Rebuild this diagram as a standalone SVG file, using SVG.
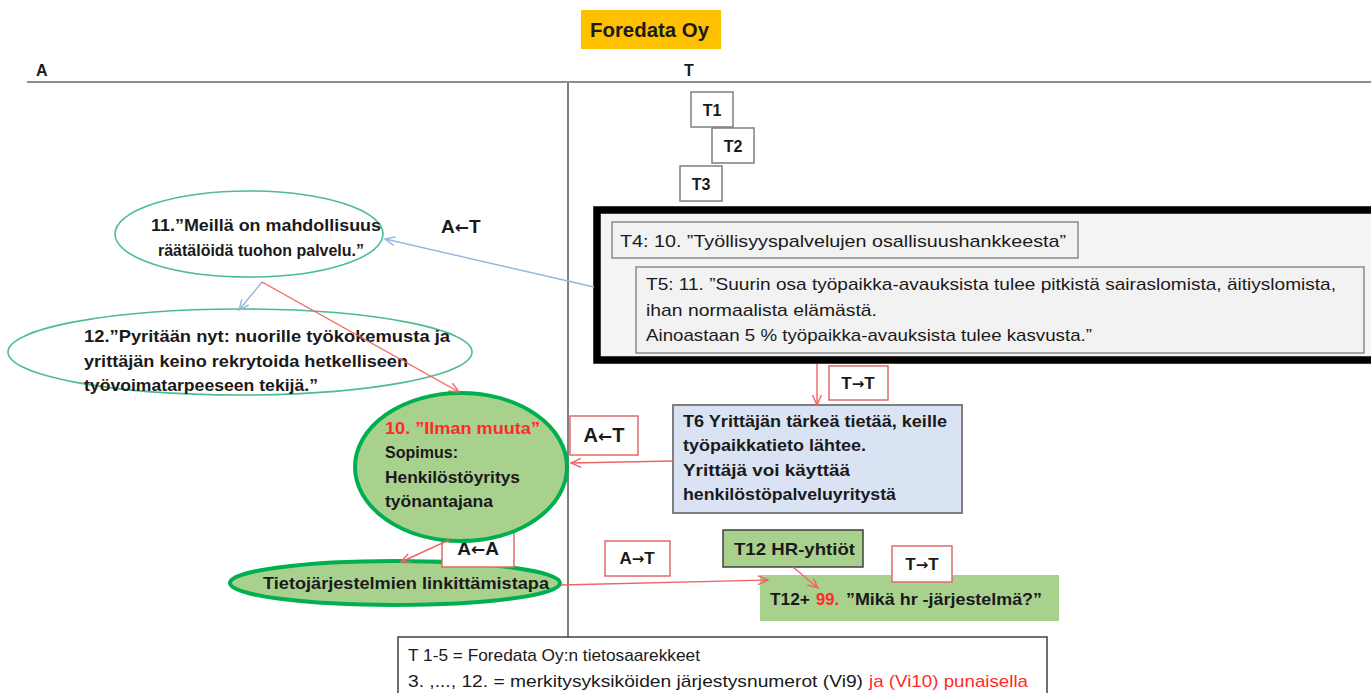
<svg xmlns="http://www.w3.org/2000/svg" width="1371" height="693" viewBox="0 0 1371 693">
  <style>
    text { font-family: "Liberation Sans", Arial, sans-serif; fill: #1a1a1a; }
    .b { font-weight: bold; }
    .t17 { font-size: 17px; }
    .t16 { font-size: 16px; }
    .red { fill: #ff2a2a; }
    .arw { font-family: "DejaVu Sans", sans-serif; font-weight: bold; }
    .lbl { fill: #ffffff; stroke: #e06a6a; stroke-width: 1.5; }
    .tbox { fill: #ffffff; stroke: #7f7f7f; stroke-width: 1.5; }
    .gray { fill: #f2f2f2; stroke: #8a8a8a; stroke-width: 1.5; }
    .green { fill: #a9d18e; stroke: #00b050; stroke-width: 4; }
    .thin { fill: #ffffff; stroke: #4cbc92; stroke-width: 1.6; }
    .rl { fill: none; stroke: #f06464; stroke-width: 1.4; marker-end: url(#ar); }
    .bl { fill: none; stroke: #93b7db; stroke-width: 1.4; marker-end: url(#ab); }
  </style>
  <defs>
    <marker id="ar" markerUnits="userSpaceOnUse" markerWidth="14" markerHeight="12" refX="11" refY="5" orient="auto">
      <path d="M1,0.5 L11,5 L1,9.5" fill="none" stroke="#f06464" stroke-width="1.4"/>
    </marker>
    <marker id="ab" markerUnits="userSpaceOnUse" markerWidth="14" markerHeight="12" refX="11" refY="5" orient="auto">
      <path d="M1,0.5 L11,5 L1,9.5" fill="none" stroke="#93b7db" stroke-width="1.4"/>
    </marker>
  </defs>

  <rect width="1371" height="693" fill="#ffffff"/>

  <!-- header and column dividers -->
  <g id="header">
    <rect x="581" y="10" width="140" height="39" fill="#ffc000"/>
    <text x="590" y="37" class="b" font-size="20" textLength="119" lengthAdjust="spacingAndGlyphs">Foredata Oy</text>
    <text x="36" y="76" class="b t16">A</text>
    <text x="684" y="76" class="b t16">T</text>
    <line x1="27" y1="82" x2="1371" y2="82" stroke="#8c8c8c" stroke-width="2"/>
    <line x1="568" y1="83" x2="568" y2="638" stroke="#555555" stroke-width="1.5"/>
  </g>

  <!-- T1..T3 -->
  <g id="t1"><rect x="691" y="92" width="42" height="35" class="tbox"/><text x="712" y="116" class="b t16" text-anchor="middle">T1</text></g>
  <g id="t2"><rect x="712" y="128" width="42" height="35" class="tbox"/><text x="733" y="152" class="b t16" text-anchor="middle">T2</text></g>
  <g id="t3"><rect x="680" y="166" width="42" height="35" class="tbox"/><text x="701" y="190" class="b t16" text-anchor="middle">T3</text></g>

  <!-- framed group T4/T5 -->
  <g id="t4t5">
    <rect x="597" y="210" width="800" height="150" fill="#f4f4f4" stroke="#000000" stroke-width="7.5"/>
    <rect x="612" y="222" width="466" height="36" class="gray"/>
    <text x="620" y="247" class="t17" textLength="446" lengthAdjust="spacingAndGlyphs">T4: 10. ”Työllisyyspalvelujen osallisuushankkeesta”</text>
    <rect x="636" y="267" width="728" height="86" class="gray"/>
    <text x="646" y="290" class="t17" textLength="690" lengthAdjust="spacingAndGlyphs">T5: 11. ”Suurin osa työpaikka-avauksista tulee pitkistä sairaslomista, äitiyslomista,</text>
    <text x="646" y="316" class="t17" textLength="231" lengthAdjust="spacingAndGlyphs">ihan normaalista elämästä.</text>
    <text x="646" y="341" class="t17" textLength="446" lengthAdjust="spacingAndGlyphs">Ainoastaan 5 % työpaikka-avauksista tulee kasvusta.”</text>
  </g>

  <!-- T6 -->
  <g id="t6">
    <rect x="673" y="405" width="289" height="108" fill="#dae3f3" stroke="#7f7f7f" stroke-width="2"/>
    <text x="683" y="427" class="b t17" textLength="264" lengthAdjust="spacingAndGlyphs">T6 Yrittäjän tärkeä tietää, keille</text>
    <text x="683" y="451" class="b t17" textLength="183" lengthAdjust="spacingAndGlyphs">työpaikkatieto lähtee.</text>
    <text x="683" y="476" class="b t17" textLength="167" lengthAdjust="spacingAndGlyphs">Yrittäjä voi käyttää</text>
    <text x="683" y="500" class="b t17" textLength="213" lengthAdjust="spacingAndGlyphs">henkilöstöpalveluyritystä</text>
  </g>

  <!-- ellipse 11 -->
  <g id="n11">
    <ellipse cx="249" cy="234" rx="134" ry="43" class="thin"/>
    <text x="151" y="231" class="b t17" textLength="230" lengthAdjust="spacingAndGlyphs">11.”Meillä on mahdollisuus</text>
    <text x="158" y="256" class="b t17" textLength="206" lengthAdjust="spacingAndGlyphs">räätälöidä tuohon palvelu.”</text>
  </g>

  <!-- ellipse 12 -->
  <g id="n12">
    <ellipse cx="240" cy="352" rx="232" ry="43" class="thin"/>
    <text x="84" y="342" class="b t17" textLength="366" lengthAdjust="spacingAndGlyphs">12.”Pyritään nyt: nuorille työkokemusta ja</text>
    <text x="84" y="367" class="b t17" textLength="324" lengthAdjust="spacingAndGlyphs">yrittäjän keino rekrytoida hetkelliseen</text>
    <text x="84" y="391" class="b t17" textLength="234" lengthAdjust="spacingAndGlyphs">työvoimatarpeeseen tekijä.”</text>
  </g>

  <!-- linking ellipse -->
  <g id="linkitys">
    <ellipse cx="395" cy="583" rx="165" ry="22" class="green"/>
    <text x="263" y="589" class="b t17" textLength="286" lengthAdjust="spacingAndGlyphs">Tietojärjestelmien linkittämistapa</text>
  </g>

  <!-- A←A label: above the linking ellipse, below ellipse 10 -->
  <g id="lbl-aa"><rect x="442" y="530" width="72" height="37" class="lbl"/><text x="478" y="555" class="b" font-size="19" text-anchor="middle">A<tspan class="arw" font-size="17">←</tspan>A</text></g>

  <!-- ellipse 10 -->
  <g id="n10">
    <ellipse cx="461" cy="467" rx="106" ry="74" class="green"/>
    <text x="385" y="434" class="b t17 red" textLength="155" lengthAdjust="spacingAndGlyphs">10. ”Ilman muuta”</text>
    <text x="385" y="458" class="b t17" textLength="73" lengthAdjust="spacingAndGlyphs">Sopimus:</text>
    <text x="385" y="483" class="b t17" textLength="135" lengthAdjust="spacingAndGlyphs">Henkilöstöyritys</text>
    <text x="385" y="507" class="b t17" textLength="108" lengthAdjust="spacingAndGlyphs">työnantajana</text>
  </g>

  <!-- T12 -->
  <g id="t12">
    <rect x="723" y="530" width="140" height="37" fill="#a9d18e" stroke="#404040" stroke-width="1.5"/>
    <text x="734" y="555" class="b t17" textLength="121" lengthAdjust="spacingAndGlyphs">T12 HR-yhtiöt</text>
  </g>
  <g id="t12plus">
    <rect x="760" y="575" width="299" height="46" fill="#a9d18e"/>
    <text x="770" y="605" class="b t17" textLength="40" lengthAdjust="spacingAndGlyphs">T12+</text>
    <text x="816" y="605" class="b t17 red" textLength="23" lengthAdjust="spacingAndGlyphs">99.</text>
    <text x="846" y="605" class="b t17" textLength="196" lengthAdjust="spacingAndGlyphs">”Mikä hr -järjestelmä?”</text>
  </g>

  <!-- direction labels -->
  <g id="lbl-at-top"><text x="441" y="233" class="b" font-size="19">A<tspan class="arw" font-size="17">←</tspan>T</text></g>
  <g id="lbl-tt-1"><rect x="829" y="366" width="59" height="34" class="lbl"/><text x="858" y="389" class="b t17" text-anchor="middle">T<tspan class="arw" font-size="15">→</tspan>T</text></g>
  <g id="lbl-at-mid"><rect x="570" y="416" width="68" height="39" class="lbl"/><text x="604" y="442" class="b" font-size="20" text-anchor="middle">A<tspan class="arw" font-size="17">←</tspan>T</text></g>
  <g id="lbl-at-low"><rect x="605" y="541" width="65" height="35" class="lbl"/><text x="637" y="564" class="b t17" text-anchor="middle">A<tspan class="arw" font-size="15">→</tspan>T</text></g>
  <g id="lbl-tt-2"><rect x="892" y="546" width="60" height="36" class="lbl"/><text x="922" y="570" class="b t17" text-anchor="middle">T<tspan class="arw" font-size="15">→</tspan>T</text></g>

  <!-- connectors -->
  <g id="connectors">
    <line x1="594" y1="287" x2="385" y2="239" class="bl"/>
    <line x1="262" y1="282" x2="239" y2="310" class="bl"/>
    <line x1="262" y1="282" x2="459" y2="392" class="rl"/>
    <line x1="817" y1="364" x2="817" y2="405" class="rl"/>
    <line x1="673" y1="461" x2="571" y2="463" class="rl"/>
    <line x1="449" y1="540" x2="401" y2="562" class="rl"/>
    <line x1="561" y1="585" x2="768" y2="580" class="rl"/>
    <line x1="793" y1="567" x2="818" y2="588" class="rl"/>
  </g>

  <!-- legend -->
  <g id="legend">
    <rect x="398" y="637" width="649" height="70" fill="#ffffff" stroke="#404040" stroke-width="1.5"/>
    <text x="408" y="661" class="t17" textLength="292" lengthAdjust="spacingAndGlyphs">T 1-5 = Foredata Oy:n tietosaarekkeet</text>
    <text x="408" y="687" class="t17" textLength="455" lengthAdjust="spacingAndGlyphs">3. ,..., 12. = merkitysyksiköiden järjestysnumerot (Vi9)</text>
    <text x="869" y="687" class="t17 red" textLength="159" lengthAdjust="spacingAndGlyphs">ja (Vi10) punaisella</text>
  </g>
</svg>
